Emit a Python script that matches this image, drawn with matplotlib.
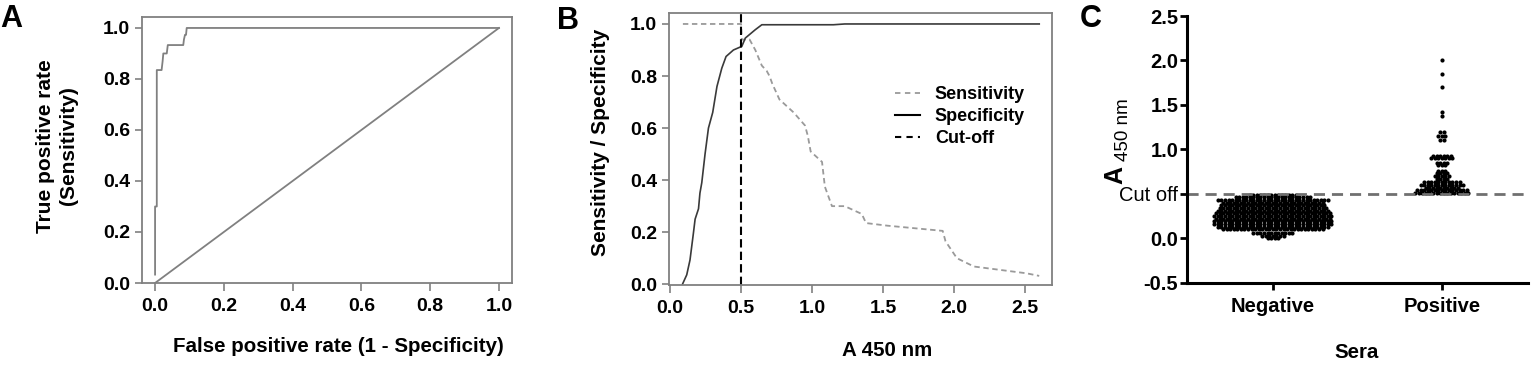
import numpy as np
import matplotlib
matplotlib.use("Agg")
import matplotlib.pyplot as plt
from matplotlib.lines import Line2D

W, H = 1535, 368

# --- panel A: ROC curve ---
roc_fpr = [0.0, 0.0, 0.005, 0.005, 0.019, 0.022, 0.024, 0.034, 0.037, 0.082, 0.084, 0.087, 0.090, 0.092, 1.0]
roc_tpr = [0.033, 0.30, 0.30, 0.835, 0.835, 0.87, 0.90, 0.90, 0.933, 0.933, 0.955, 0.973, 0.973, 1.0, 1.0]

# --- panel B: sensitivity / specificity vs A450 ---
sens_x = [0.09, 0.50, 0.505, 0.56, 0.60, 0.646, 0.68, 0.70, 0.72, 0.77, 0.87, 0.95, 0.97, 0.99,
          1.07, 1.09, 1.14, 1.23, 1.35, 1.38, 1.53, 1.92, 1.94, 2.02, 2.14, 2.51, 2.60]
sens_y = [1.0, 1.0, 0.94, 0.94, 0.90, 0.84, 0.82, 0.80, 0.77, 0.71, 0.66, 0.61, 0.57, 0.51,
          0.47, 0.375, 0.30, 0.30, 0.27, 0.235, 0.225, 0.205, 0.165, 0.10, 0.068, 0.042, 0.032]
spec_x = [0.087, 0.117, 0.14, 0.164, 0.176, 0.20, 0.21, 0.223, 0.246, 0.27, 0.30, 0.33, 0.364,
          0.394, 0.446, 0.505, 0.53, 0.60, 0.646, 1.15, 1.23, 2.60]
spec_y = [0.0, 0.036, 0.093, 0.196, 0.25, 0.29, 0.35, 0.39, 0.50, 0.60, 0.66, 0.76, 0.83,
          0.875, 0.90, 0.914, 0.946, 0.978, 0.997, 0.997, 1.0, 1.0]
cutoff = 0.5

# --- panel C: dot plot (value levels and number of sera at each level) ---
groups = ["Negative", "Positive"]
neg_levels = [0.00, 0.03, 0.06, 0.10, 0.13, 0.16, 0.19, 0.22, 0.25, 0.28, 0.31, 0.34, 0.37, 0.40, 0.43, 0.46, 0.49]
neg_counts = [4, 7, 12, 29, 32, 34, 34, 33, 34, 33, 32, 31, 30, 29, 32, 22, 14]
pos_levels = [2.00, 1.85, 1.70, 1.42, 1.38, 1.20, 1.15, 1.10, 0.93, 0.90, 0.85, 0.82, 0.76,
              0.73, 0.70, 0.67, 0.63, 0.60, 0.57, 0.54, 0.51]
pos_counts = [1, 1, 1, 1, 1, 2, 3, 2, 6, 7, 4, 3, 3, 4, 5, 4, 11, 13, 10, 15, 16]

plt.rcParams["font.family"] = ["Liberation Sans", "DejaVu Sans"]
plt.rcParams["font.weight"] = "bold"

GRAY = "#808080"


def fpos(x, y):
    return x / W, 1 - y / H


def axes_rect(left, top, right, bottom):
    return [left / W, 1 - bottom / H, (right - left) / W, (bottom - top) / H]


def swarm(center, levels, counts, dx=0.021):
    xs, ys = [], []
    for lv, n in zip(levels, counts):
        off = (np.arange(n) - (n - 1) / 2) * dx
        xs.extend(center + off)
        ys.extend([lv] * n)
    return np.array(xs), np.array(ys)


def gray_box(ax):
    for sp in ax.spines.values():
        sp.set_color(GRAY)
        sp.set_linewidth(1.3)
    ax.tick_params(colors=GRAY, labelcolor="black", width=1.2, labelsize=14)
    ax.tick_params(axis="y", length=5, pad=3.5)
    ax.tick_params(axis="x", length=6, pad=5)


fig = plt.figure(figsize=(W / 100, H / 100), dpi=100)

# A
axA = fig.add_axes(axes_rect(142, 17, 512, 283))
axA.plot(roc_fpr, roc_tpr, color=GRAY, lw=1.3)
axA.plot([0, 1], [0, 1], color=GRAY, lw=1.3)
axA.set_xlim(-0.038, 1.038)
axA.set_ylim(0, 1.043)
axA.set_xticks(np.arange(0, 1.01, 0.2))
axA.set_yticks(np.arange(0, 1.01, 0.2))
axA.xaxis.set_major_formatter(matplotlib.ticker.FormatStrFormatter("%.1f"))
axA.yaxis.set_major_formatter(matplotlib.ticker.FormatStrFormatter("%.1f"))
gray_box(axA)
fig.text(*fpos(338, 347), "False positive rate (1 - Specificity)", ha="center", va="center", fontsize=14.8)
fig.text(*fpos(57, 146), "True positive rate\n(Sensitivity)", ha="center", va="center",
         rotation=90, fontsize=15, linespacing=1.3)

# B
axB = fig.add_axes(axes_rect(668.7, 13.3, 1052, 285))
axB.plot(sens_x, sens_y, color="#9a9a9a", lw=1.3, dashes=(3, 2))
axB.plot(spec_x, spec_y, color="#3a3a3a", lw=1.2)
axB.axvline(cutoff, color="black", lw=1.5, dashes=(4, 2))
axB.set_xlim(-0.01, 2.69)
axB.set_ylim(-0.003, 1.041)
axB.set_xticks(np.arange(0, 2.51, 0.5))
axB.set_yticks(np.arange(0, 1.01, 0.2))
axB.xaxis.set_major_formatter(matplotlib.ticker.FormatStrFormatter("%.1f"))
axB.yaxis.set_major_formatter(matplotlib.ticker.FormatStrFormatter("%.1f"))
gray_box(axB)
handles = [Line2D([], [], color="#9a9a9a", lw=1.3, dashes=(3, 2.5)),
           Line2D([], [], color="black", lw=1.5),
           Line2D([], [], color="black", lw=1.5, dashes=(3, 2.5))]
fig.legend(handles, ["Sensitivity", "Specificity", "Cut-off"], loc="upper left",
           bbox_to_anchor=fpos(886, 77), frameon=False, fontsize=13, borderpad=0,
           handlelength=1.4, handletextpad=0.8, labelspacing=0.28)
fig.text(*fpos(887, 351), "A 450 nm", ha="center", va="center", fontsize=14.8)
fig.text(*fpos(601, 142), "Sensitivity / Specificity", ha="center", va="center",
         rotation=90, fontsize=15)

# C
axC = fig.add_axes(axes_rect(1186.7, 16, 1528, 282.7))
nx, ny = swarm(0, neg_levels, neg_counts)
px, py = swarm(1, pos_levels, pos_counts)
axC.scatter(nx, ny, s=9, color="black", linewidths=0)
axC.scatter(px, py, s=9, color="black", linewidths=0)
axC.axhline(cutoff, color="#707070", lw=2, dashes=(4, 2.5))
axC.set_xlim(-0.51, 1.51)
axC.set_ylim(-0.5, 2.5)
axC.set_xticks([0, 1])
axC.set_xticklabels(groups)
yt = [-0.5, 0.0, 0.5, 1.0, 1.5, 2.0, 2.5]
axC.set_yticks(yt)
axC.set_yticklabels(["-0.5", "0.0", "Cut off", "1.0", "1.5", "2.0", "2.5"])
axC.spines["top"].set_visible(False)
axC.spines["right"].set_visible(False)
axC.spines["left"].set_linewidth(2.2)
axC.spines["bottom"].set_linewidth(2.2)
axC.tick_params(width=2, length=5, labelsize=14.5)
axC.tick_params(axis="y", pad=1)
axC.tick_params(axis="x", pad=5)
for lab in axC.get_yticklabels():
    if lab.get_text() == "Cut off":
        lab.set_fontweight("normal")
        lab.set_fontsize(14.5)
fig.text(*fpos(1357, 352), "Sera", ha="center", va="center", fontsize=14.8)
fig.text(*fpos(1115, 175), "A", ha="center", va="center", rotation=90, fontsize=18)
fig.text(*fpos(1123, 130), "450 nm", ha="center", va="center", rotation=90,
         fontsize=13.5, fontweight="normal")

# panel letters
for lbl, (x, y) in zip("ABC", [(11.5, 19), (568, 21), (1091, 19)]):
    fig.text(*fpos(x, y), lbl, ha="center", va="center", fontsize=22)

fig.savefig("out.png", dpi=100)
